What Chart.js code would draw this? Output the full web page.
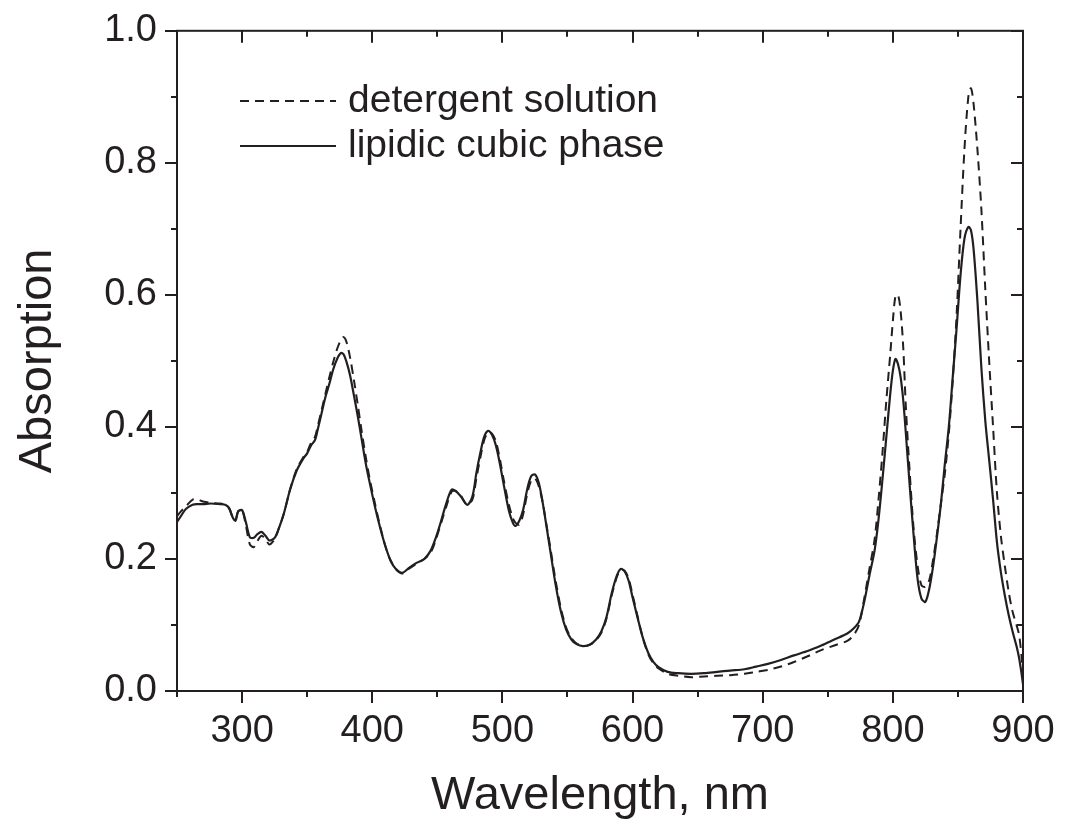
<!DOCTYPE html>
<html>
<head>
<meta charset="utf-8">
<script src="https://cdn.jsdelivr.net/npm/chart.js@4"></script>
<style>
  html, body { margin: 0; padding: 0; background: #fff; }
  #wrap { width: 1069px; height: 827px; }
</style>
</head>
<body>
<div id="wrap"><canvas id="chart" width="1069" height="827"></canvas></div>
<script>
'use strict';

// wavelength grid, nm
const wavelengths = [
  250, 253, 257, 262, 266, 270, 276, 283, 287, 290, 293, 295, 297, 300, 303, 306, 309, 312, 315, 318,
  321, 325, 328, 332, 337, 342, 347, 350, 353, 356, 358, 361, 364, 367, 370, 373, 376, 378, 380, 383,
  386, 389, 392, 395, 398, 402, 406, 410, 414, 418, 423, 428, 434, 440, 445, 449, 453, 457, 461, 464,
  468, 473, 477, 480, 483, 486, 489, 492, 495, 498, 501, 505, 508, 510, 513, 516, 519, 522, 525, 528,
  531, 534, 537, 541, 545, 549, 553, 557, 562, 567, 572, 576, 580, 584, 588, 591, 594, 597, 600, 604,
  608, 612, 616, 620, 627, 635, 645, 655, 665, 675, 686, 695, 704, 714, 724, 735, 745, 755, 765, 770,
  774, 778, 782, 786, 789, 792, 795, 798, 800, 802, 804, 806, 808, 810, 813, 816, 819, 822, 825, 828,
  831, 834, 837, 840, 843, 846, 849, 852, 855, 858, 860, 862, 865, 868, 871, 874, 877, 880, 883, 886,
  889, 892, 895, 897, 899, 900
];

// detergent solution (dashed)
const detergent = [
  0.265, 0.272, 0.280, 0.290, 0.290, 0.287, 0.285, 0.284, 0.282, 0.277, 0.262, 0.260, 0.272, 0.274, 0.250, 0.222, 0.218, 0.228, 0.235, 0.230,
  0.222, 0.230, 0.245, 0.268, 0.306, 0.336, 0.354, 0.362, 0.376, 0.385, 0.400, 0.425, 0.450, 0.475, 0.498, 0.518, 0.532, 0.536, 0.530, 0.505,
  0.470, 0.432, 0.392, 0.355, 0.322, 0.285, 0.250, 0.220, 0.198, 0.185, 0.178, 0.185, 0.193, 0.200, 0.210, 0.230, 0.255, 0.280, 0.302, 0.303,
  0.296, 0.282, 0.290, 0.322, 0.353, 0.380, 0.392, 0.390, 0.378, 0.352, 0.320, 0.282, 0.262, 0.255, 0.252, 0.268, 0.298, 0.318, 0.322, 0.310,
  0.285, 0.250, 0.215, 0.166, 0.125, 0.096, 0.080, 0.072, 0.068, 0.070, 0.077, 0.088, 0.110, 0.145, 0.173, 0.184, 0.182, 0.170, 0.146, 0.112,
  0.080, 0.056, 0.042, 0.034, 0.026, 0.023, 0.021, 0.022, 0.023, 0.024, 0.026, 0.029, 0.032, 0.037, 0.044, 0.053, 0.062, 0.069, 0.076, 0.085,
  0.100, 0.140, 0.185, 0.230, 0.290, 0.360, 0.440, 0.510, 0.560, 0.598, 0.600, 0.575, 0.520, 0.430, 0.330, 0.245, 0.190, 0.160, 0.158, 0.168,
  0.200, 0.240, 0.285, 0.330, 0.390, 0.470, 0.570, 0.700, 0.820, 0.900, 0.913, 0.890, 0.820, 0.730, 0.610, 0.500, 0.400, 0.300, 0.235, 0.190,
  0.150, 0.120, 0.100, 0.085, 0.050, 0.020
];

// lipidic cubic phase (solid)
const cubicPhase = [
  0.256, 0.265, 0.276, 0.282, 0.283, 0.283, 0.284, 0.283, 0.282, 0.277, 0.262, 0.258, 0.272, 0.274, 0.255, 0.233, 0.232, 0.238, 0.241, 0.235,
  0.228, 0.232, 0.245, 0.268, 0.306, 0.334, 0.352, 0.360, 0.372, 0.380, 0.395, 0.420, 0.445, 0.465, 0.487, 0.503, 0.512, 0.510, 0.500, 0.478,
  0.447, 0.415, 0.380, 0.345, 0.316, 0.280, 0.248, 0.220, 0.198, 0.185, 0.179, 0.186, 0.194, 0.200, 0.213, 0.233, 0.258, 0.285, 0.305, 0.303,
  0.295, 0.282, 0.295, 0.330, 0.360, 0.385, 0.394, 0.388, 0.372, 0.345, 0.313, 0.273, 0.255, 0.250, 0.258, 0.275, 0.305, 0.325, 0.328, 0.315,
  0.285, 0.248, 0.210, 0.160, 0.120, 0.093, 0.078, 0.071, 0.068, 0.070, 0.078, 0.090, 0.112, 0.148, 0.175, 0.185, 0.181, 0.167, 0.142, 0.110,
  0.080, 0.058, 0.044, 0.036, 0.029, 0.027, 0.026, 0.027, 0.029, 0.031, 0.033, 0.037, 0.041, 0.047, 0.054, 0.061, 0.069, 0.078, 0.087, 0.095,
  0.105, 0.135, 0.175, 0.213, 0.260, 0.320, 0.385, 0.450, 0.485, 0.503, 0.495, 0.475, 0.440, 0.390, 0.310, 0.235, 0.170, 0.140, 0.135, 0.155,
  0.190, 0.235, 0.285, 0.345, 0.400, 0.475, 0.550, 0.630, 0.685, 0.703, 0.698, 0.670, 0.590, 0.490, 0.410, 0.350, 0.290, 0.225, 0.180, 0.145,
  0.115, 0.090, 0.068, 0.050, 0.025, 0.010
];

const xTicks = [300, 400, 500, 600, 700, 800, 900];
const yTicks = [0.0, 0.2, 0.4, 0.6, 0.8, 1.0];

const ink = '#231f20';
const fontFamily = '"Liberation Sans", Arial, Helvetica, sans-serif';

const toPoints = (ys) => wavelengths.map((w, i) => ({ x: w, y: ys[i] }));

// box on all four sides, minor ticks, inward ticks on top/right, legend
const framePlugin = {
  id: 'frame',
  afterDraw(chart) {
    const { ctx, chartArea: a, scales: { x, y } } = chart;
    ctx.save();
    ctx.strokeStyle = ink;
    ctx.lineWidth = 2;
    ctx.setLineDash([]);
    ctx.strokeRect(a.left, a.top, a.right - a.left, a.bottom - a.top);

    ctx.beginPath();
    for (let v = 250; v <= 900; v += 50) {
      const px = Math.round(x.getPixelForValue(v));
      const major = v % 100 === 0;
      const len = major ? 12 : 6;
      ctx.moveTo(px, a.top); ctx.lineTo(px, a.top + len);
      if (!major) { ctx.moveTo(px, a.bottom); ctx.lineTo(px, a.bottom + 6); }
    }
    for (let i = 0; i <= 10; i++) {
      const v = i / 10;
      const py = Math.round(y.getPixelForValue(v));
      const major = i % 2 === 0;
      const len = major ? 12 : 6;
      ctx.moveTo(a.right, py); ctx.lineTo(a.right - len, py);
      if (!major) { ctx.moveTo(a.left, py); ctx.lineTo(a.left - 6, py); }
    }
    ctx.stroke();

    // legend
    ctx.font = '39px ' + fontFamily;
    ctx.fillStyle = ink;
    ctx.textBaseline = 'middle';
    chart.data.datasets.forEach((ds, i) => {
      const ly = 101 + i * 45;
      ctx.beginPath();
      ctx.lineWidth = 2;
      ctx.setLineDash(ds.borderDash || []);
      ctx.moveTo(240, ly); ctx.lineTo(336, ly);
      ctx.stroke();
      ctx.fillText(ds.label, 348, ly);
    });
    ctx.restore();
  }
};

new Chart(document.getElementById('chart').getContext('2d'), {
  type: 'line',
  data: {
    datasets: [
      {
        label: 'detergent solution',
        data: toPoints(detergent),
        borderColor: ink,
        borderWidth: 2,
        borderDash: [9, 6],
        pointRadius: 0,
        tension: 0.3,
      },
      {
        label: 'lipidic cubic phase',
        data: toPoints(cubicPhase),
        borderColor: ink,
        borderWidth: 2.2,
        pointRadius: 0,
        tension: 0.3,
      },
    ],
  },
  options: {
    responsive: false,
    animation: false,
    layout: { padding: { top: 29, right: 46, left: 0, bottom: 0 } },
    plugins: { legend: { display: false }, tooltip: { enabled: false } },
    scales: {
      x: {
        type: 'linear',
        min: 250, max: 900,
        afterBuildTicks: (s) => { s.ticks = xTicks.map((v) => ({ value: v })); },
        afterFit: (s) => { s.height = 136; },
        grid: { display: true, drawOnChartArea: false, tickLength: 12, color: ink, lineWidth: 2 },
        border: { display: true, color: ink, width: 2 },
        ticks: { color: ink, padding: 6, maxRotation: 0, font: { family: fontFamily, size: 38 } },
        title: { display: true, text: 'Wavelength, nm', color: ink, padding: { top: 0, bottom: 3 },
                 font: { family: fontFamily, size: 47 } },
      },
      y: {
        min: 0, max: 1,
        afterBuildTicks: (s) => { s.ticks = yTicks.map((v) => ({ value: v })); },
        afterFit: (s) => { s.width = 177; },
        grid: { display: true, drawOnChartArea: false, tickLength: 12, color: ink, lineWidth: 2 },
        border: { display: true, color: ink, width: 2 },
        ticks: { color: ink, padding: 8, font: { family: fontFamily, size: 38 },
                 callback: (v) => Number(v).toFixed(1) },
        title: { display: true, text: 'Absorption', color: ink, padding: { top: 10 },
                 font: { family: fontFamily, size: 47 } },
      },
    },
  },
  plugins: [framePlugin],
});
</script>
</body>
</html>
